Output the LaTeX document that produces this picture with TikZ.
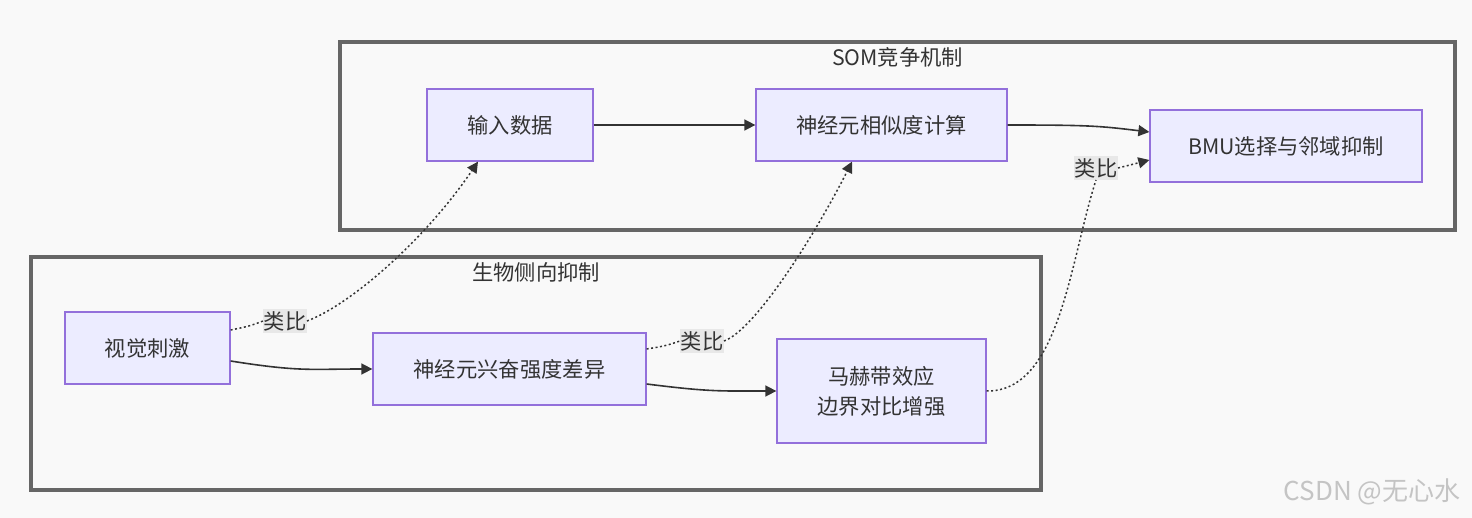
\documentclass[tikz,border=0pt]{standalone}
\usepackage{fontspec}
\setmainfont{Noto Sans CJK SC}
\usetikzlibrary{arrows.meta,calc}
\definecolor{bgc}{HTML}{F9F9F9}
\definecolor{nodefill}{HTML}{ECECFF}
\definecolor{nodeline}{HTML}{9370DB}
\definecolor{clline}{HTML}{666666}
\definecolor{txt}{HTML}{333333}
\definecolor{labbg}{HTML}{E8E8E8}
\definecolor{wm}{HTML}{C4C4C4}
\tikzset{
  box/.style={draw=nodeline, fill=nodefill, line width=1.3pt, text=txt,
    font=\fontsize{21.3}{27}\selectfont, align=center, inner sep=0pt},
  cluster/.style={draw=clline, fill=bgc, line width=3.2pt},
  ctitle/.style={text=txt, font=\fontsize{21.3}{27}\selectfont, inner sep=0pt},
  lab/.style={fill=labbg, text=txt, font=\fontsize{21.3}{27}\selectfont, inner xsep=0.5pt, inner ysep=2pt},
  edge/.style={draw=txt, line width=1.6pt},
  dotedge/.style={draw=txt, line width=1.5pt, dash pattern=on 2pt off 2.5pt},
  arr/.style={-{Triangle[length=11pt,width=11pt]}}
}
\begin{document}
\begin{tikzpicture}[x=1pt,y=-1pt]
\fill[bgc] (0,0) rectangle (1472,518);
\useasboundingbox (0,0) rectangle (1472,518);
% clusters
\draw[cluster] (340,42) rectangle (1455,230);
\draw[cluster] (31,257) rectangle (1041,490);
\node[ctitle] (somt) at (897.5,57) {SOM竞争机制};
\node[ctitle] (biot) at (536,272) {生物侧向抑制};
% nodes
\node[box, minimum width=166pt, minimum height=72pt] (in) at (510,125) {输入数据};
\node[box, minimum width=251pt, minimum height=72pt] (sim) at (881.5,125) {神经元相似度计算};
\node[box, minimum width=272pt, minimum height=72pt] (bmu) at (1286,146) {BMU选择与邻域抑制};
\node[box, minimum width=165pt, minimum height=72pt] (vis) at (147.5,348) {视觉刺激};
\node[box, minimum width=273pt, minimum height=72pt] (exc) at (509.5,369) {神经元兴奋强度差异};
\node[box, minimum width=209pt, minimum height=104pt] (mach) at (881.5,391) {马赫带效应\\[3pt]边界对比增强};
% labels
\node[lab] (lab1) at (285,321) {类比};
\node[lab] (lab2) at (702,341) {类比};
\node[lab] (lab3) at (1096,168) {类比};
% solid edges
\draw[edge,arr] (in) -- (sim);
\draw[edge,arr] (sim.east) .. controls (1090,125) and (1100,126) .. ($(bmu.west)+(0,-14)$);
\draw[edge,arr] ($(vis.east)+(0,13)$) .. controls (300,372) and (310,369) .. (exc.west);
\draw[edge,arr] ($(exc.east)+(0,15)$) .. controls (710,392) and (720,391) .. (mach.west);
% dotted edges
\draw[dotedge] ($(vis.east)+(0,-18)$) .. controls (250,326) .. (lab1.west);
\draw[dotedge,arr] (lab1.east) .. controls (350,305) and (425,240) .. ($(in.south)+(-32,0)$);
\draw[dotedge] ($(exc.east)+(0,-20)$) .. controls (665,346) .. (lab2.west);
\draw[dotedge,arr] (lab2.east) .. controls (755,330) and (815,235) .. ($(sim.south)+(-29.5,0)$);
\draw[dotedge] (mach.east) .. controls (1060,392) and (1070,260) .. (lab3.south);
\draw[dotedge,arr] (lab3.east) .. controls (1130,165) .. ($(bmu.west)+(0,14)$);
% watermark
\node[text=wm, font=\fontsize{26}{30}\selectfont, inner sep=0pt] (wmark) at (1372,492) {CSDN @无心水};
\end{tikzpicture}
\end{document}
